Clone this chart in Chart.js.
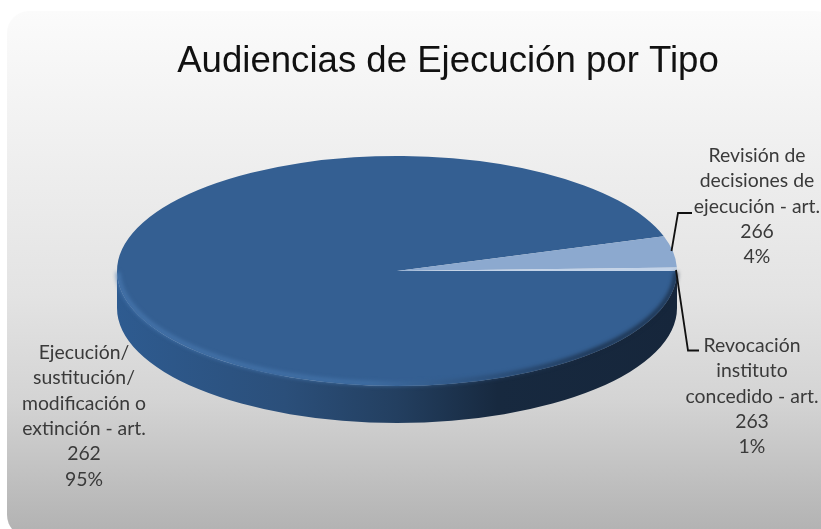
<!DOCTYPE html>
<html>
<head>
<meta charset="utf-8">
<style>
  body { margin: 0; background: #fff; }
  canvas { display: block; }
</style>
<script src="https://cdn.jsdelivr.net/npm/chart.js@4/dist/chart.umd.js"></script>
</head>
<body>
<canvas id="chart" width="821" height="529"></canvas>
<script>
const titulo = "Audiencias de Ejecución por Tipo"
const categorias = [
    "Ejecución/ sustitución/ modificación o extinción - art. 262",
    "Revisión de decisiones de ejecución - art. 266",
    "Revocación instituto concedido - art. 263"
]
// la porcion de 1% se ve muy delgada
const valores = [95.1, 4.4, 0.5]
const porcentajes = ["95%", "4%", "1%"]
const lineas = [
    ["Ejecución/", "sustitución/", "modificación o", "extinción - art.", "262"],
    ["Revisión de", "decisiones de", "ejecución - art.", "266"],
    ["Revocación", "instituto", "concedido - art.", "263"]
]
const colores = ["#345f92", "#8ca9cf", "#c3d3e8"]

// geometria del disco en pantalla
const cx = 397, cy = 271, rx = 280, ry = 115, alto = 37
const posLabels = [
    { x: 84, y: 353 },
    { x: 757, y: 156 },
    { x: 752, y: 346 }
]

function fondo(ctx) {
    const g = ctx.createLinearGradient(0, 11, 0, 529)
    g.addColorStop(0, "#fbfbfb")
    g.addColorStop(0.55, "#e3e3e3")
    g.addColorStop(0.75, "#d4d4d4")
    g.addColorStop(1, "#b3b3b3")
    ctx.fillStyle = g
    ctx.beginPath()
    ctx.roundRect(7, 11, 830, 526, 22)
    ctx.fill()
}

function lateral(ctx) {
    const g = ctx.createLinearGradient(cx - rx, 0, cx + rx, 0)
    g.addColorStop(0, "#2e5b90")
    g.addColorStop(0.3, "#2b4f7a")
    g.addColorStop(0.5, "#233f60")
    g.addColorStop(0.68, "#17293f")
    g.addColorStop(1, "#16263b")
    ctx.fillStyle = g
    ctx.beginPath()
    ctx.ellipse(cx, cy, rx, ry, 0, Math.PI, 0, true)
    ctx.lineTo(cx + rx, cy + alto)
    ctx.ellipse(cx, cy + alto, rx, ry, 0, 0, Math.PI)
    ctx.closePath()
    ctx.fill()
}

function bisel(ctx) {
    const g = ctx.createLinearGradient(cx - rx, 0, cx + rx, 0)
    g.addColorStop(0, "#4a7ab2")
    g.addColorStop(0.45, "#4474aa")
    g.addColorStop(0.65, "#2a4c75")
    g.addColorStop(0.85, "#16263b")
    g.addColorStop(1, "#16263b")
    ctx.save()
    ctx.filter = "blur(2px)"
    ctx.strokeStyle = g
    ctx.lineWidth = 3.5
    ctx.beginPath()
    ctx.ellipse(cx, cy - 1, rx - 1, ry - 1, 0, 0.02, Math.PI - 0.02)
    ctx.stroke()
    ctx.restore()
}

function lineasGuia(ctx) {
    ctx.strokeStyle = "#111"
    ctx.lineWidth = 1.8
    ctx.beginPath()
    ctx.moveTo(671.5, 251)
    ctx.lineTo(678, 213)
    ctx.lineTo(692, 213)
    ctx.moveTo(676, 270)
    ctx.lineTo(688, 350.5)
    ctx.lineTo(699, 350.5)
    ctx.stroke()
}

function textos(ctx) {
    ctx.textAlign = "center"
    ctx.textBaseline = "alphabetic"
    ctx.fillStyle = "#111"
    ctx.font = '36.6px "Liberation Sans"'
    ctx.fillText(titulo, 448, 72)

    ctx.fillStyle = "#3a3a3a"
    ctx.font = '19.4px Lato'
    lineas.forEach((ls, i) => {
        const todas = ls.concat(porcentajes[i])
        todas.forEach((t, j) => {
            ctx.fillText(t, posLabels[i].x, posLabels[i].y + 6 + j * 25.3)
        })
    })
}

const pastel3d = {
    id: "pastel3d",
    beforeDraw(chart) {
        fondo(chart.ctx)
    },
    beforeDatasetsDraw(chart) {
        const ctx = chart.ctx
        const arco = chart.getDatasetMeta(0).data[0]
        lateral(ctx)
        // aplastar el pie de chart.js para que quede como elipse
        ctx.save()
        ctx.translate(cx, cy)
        ctx.scale(rx / arco.outerRadius, ry / arco.outerRadius)
        ctx.translate(-arco.x, -arco.y)
    },
    afterDatasetsDraw(chart) {
        const ctx = chart.ctx
        ctx.restore()
        bisel(ctx)
        lineasGuia(ctx)
        textos(ctx)
    }
}

new Chart(document.getElementById("chart").getContext("2d"), {
    type: "pie",
    data: {
        labels: categorias,
        datasets: [{
            data: valores,
            backgroundColor: colores,
            borderWidth: 0,
            clip: false
        }]
    },
    options: {
        responsive: false,
        animation: false,
        rotation: 90,
        events: [],
        layout: { padding: 0 },
        plugins: {
            legend: { display: false },
            tooltip: { enabled: false }
        }
    },
    plugins: [pastel3d]
})
</script>
</body>
</html>
